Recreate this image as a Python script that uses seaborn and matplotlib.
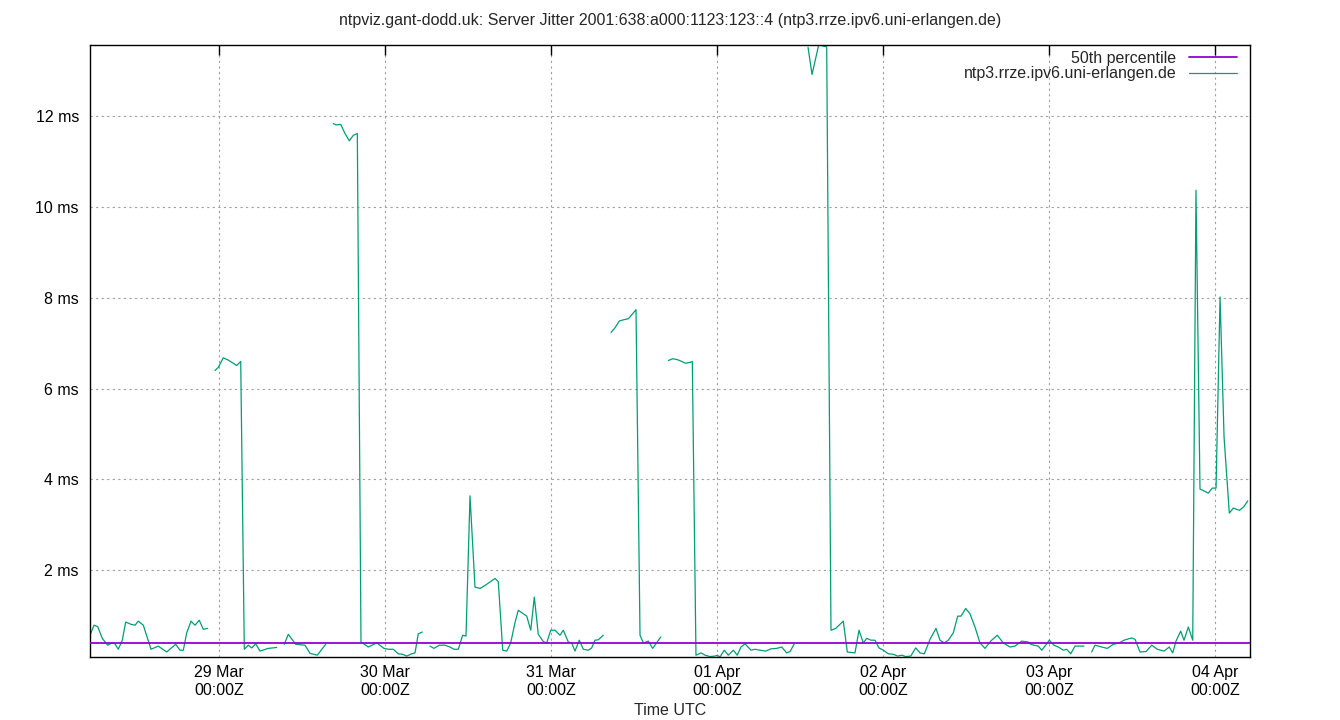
import numpy as np
import pandas as pd
import matplotlib
matplotlib.use("Agg")
import matplotlib.pyplot as plt
import matplotlib.dates as mdates
from matplotlib.lines import Line2D
import seaborn as sns

# ---- data (hours relative to 29 Mar 00:00 UTC, jitter in ms; NaN = gap) ----
hours = [
    -18.65, -18.07, -17.54, -16.87, -16.09, -15.51, -15.04, -14.56, -13.98, -13.49,
    -12.72, -12.14, -11.67, -10.94, -9.83, -8.78, -7.56, -6.26, -5.64, -5.16,
    -4.67, -4.05, -3.47, -2.85, -2.27, -1.63, -1.10,
    -0.58, -0.10, 0.62, 1.34, 2.56, 3.14, 3.66, 4.24, 4.73, 5.31, 5.93, 7.13, 8.34, 8.90,
    9.44, 10.02, 11.09, 12.43, 13.16, 14.21, 15.43, 16.00,
    16.53, 16.92, 17.60, 18.22, 18.84, 19.42, 20.00, 20.53, 21.59, 22.80, 23.86,
    24.48, 25.20, 25.92, 26.56, 27.14, 27.86, 28.34, 28.81, 29.39, 29.95,
    30.51, 31.08, 31.85, 32.68, 33.40, 33.98, 34.60, 35.23, 35.71, 36.29,
    37.01, 37.74, 38.60, 39.90, 40.38, 41.02, 41.60, 42.17, 42.80, 43.27,
    44.49, 45.07, 45.59, 46.16, 46.89, 47.38, 47.96, 48.58, 49.30, 49.78,
    50.50, 50.99, 51.47, 52.09, 52.67, 53.39, 53.88, 54.36, 54.84, 55.56, 56.10,
    56.68, 57.25, 57.87, 58.55, 59.18, 59.81, 60.29, 60.87, 61.35, 62.07, 62.70, 63.86, 64.40,
    64.96, 65.60, 66.26, 66.90, 67.47, 68.10, 68.43, 68.96, 69.69, 70.27,
    70.99, 71.71, 72.04, 72.43, 73.05, 73.63, 74.36, 74.93, 75.47, 76.05,
    76.92, 77.49, 78.22, 79.04, 79.81, 80.63, 81.36, 82.08, 82.56, 83.18, 84.20,
    85.16, 85.74, 86.70, 87.28, 87.86, 88.48, 89.16, 90.26, 90.84, 91.95,
    92.53, 93.15, 93.64, 94.27, 94.84, 95.42, 96.05, 96.77, 97.49, 98.13,
    98.71, 99.28, 100.01, 100.73, 101.35, 101.97, 102.80, 103.66, 104.24, 104.86,
    105.44, 106.16, 106.80, 107.28, 107.96, 108.58, 109.30, 110.02, 110.75, 111.57,
    112.52, 113.39, 114.36, 115.08, 116.05, 117.01, 117.35, 117.83, 118.45, 118.95,
    119.42, 120.04, 120.72, 121.34, 122.07, 122.56, 123.14, 123.76, 125.06, 125.60,
    126.17, 126.65, 127.62, 128.43, 129.30, 130.16, 130.84, 131.96, 132.44, 133.16,
    134.03, 134.85, 135.66, 136.63, 137.39, 137.89, 138.36, 139.04, 139.52, 140.14,
    140.78, 141.25, 141.83, 143.03, 143.61, 144.15, 144.73, 145.31, 146.07, 146.65,
    147.54, 148.16, 148.74,
]
nan = np.nan
jitter_ms = [
    0.57, 0.79, 0.76, 0.50, 0.35, 0.40, 0.38, 0.26, 0.46, 0.86,
    0.81, 0.79, 0.88, 0.79, 0.26, 0.33, 0.20, 0.37, 0.24, 0.24,
    0.62, 0.88, 0.79, 0.90, 0.70, 0.72, nan,
    6.40, 6.47, 6.68, 6.63, 6.51, 6.60, 0.26, 0.35, 0.29, 0.38, 0.22, 0.28, 0.30, nan,
    0.37, 0.59, 0.37, 0.35, 0.17, 0.13, 0.37, nan,
    11.84, 11.81, 11.82, 11.62, 11.46, 11.58, 11.62, 0.42, 0.31, 0.40, 0.28,
    0.26, 0.26, 0.16, 0.15, 0.11, 0.16, 0.18, 0.60, 0.64, nan,
    0.33, 0.28, 0.35, 0.35, 0.31, 0.26, 0.26, 0.57, 0.55, 3.64,
    1.63, 1.60, 1.68, 1.82, 1.75, 0.24, 0.22, 0.40, 0.85, 1.12,
    0.99, 0.68, 1.41, 0.59, 0.43, 0.40, 0.68, 0.68, 0.57, 0.68,
    0.42, 0.40, 0.22, 0.46, 0.26, 0.24, 0.29, 0.46, 0.47, 0.57, nan,
    7.24, 7.34, 7.49, 7.52, 7.54, 7.65, 7.74, 0.57, 0.40, 0.44, 0.28, 0.53, nan,
    6.62, 6.66, 6.64, 6.60, 6.56, 6.58, 6.60, 0.13, 0.18, 0.13,
    0.10, 0.11, 0.13, 0.09, 0.24, 0.13, 0.24, 0.13, 0.31, 0.38,
    0.24, 0.26, 0.24, 0.22, 0.27, 0.28, 0.31, 0.18, 0.21, 0.38, nan,
    13.52, 12.92, 13.57, 13.55, 13.53, 0.68, 0.72, 0.88, 0.20, 0.18,
    0.68, 0.40, 0.50, 0.46, 0.46, 0.29, 0.24, 0.16, 0.15, 0.11,
    0.13, 0.10, 0.11, 0.29, 0.18, 0.16, 0.48, 0.72, 0.46, 0.40,
    0.46, 0.62, 0.99, 0.99, 1.16, 1.04, 0.75, 0.40, 0.28, 0.44,
    0.57, 0.40, 0.31, 0.33, 0.44, 0.42, 0.37, 0.35, 0.33, 0.24,
    0.33, 0.46, 0.35, 0.31, 0.24, 0.26, 0.16, 0.33, 0.33, nan,
    0.20, 0.35, 0.31, 0.28, 0.37, 0.40, 0.46, 0.51, 0.48, 0.20,
    0.21, 0.35, 0.26, 0.22, 0.31, 0.18, 0.44, 0.66, 0.46, 0.75,
    0.46, 10.37, 3.79, 3.70, 3.81, 3.81, 8.02, 4.93, 3.26, 3.37,
    3.32, 3.40, 3.53,
]
median_ms = 0.39
x_range_hours = [-18.65, 149.06]

title = "ntpviz.gant-dodd.uk: Server Jitter 2001:638:a000:1123:123::4 (ntp3.rrze.ipv6.uni-erlangen.de)"
series_label = "ntp3.rrze.ipv6.uni-erlangen.de"
median_label = "50th percentile"
y_ticks = [2, 4, 6, 8, 10, 12]

# ---- build frame ----
base = pd.Timestamp("2025-03-29 00:00:00")
df = pd.DataFrame({"hours": hours, "ms": jitter_ms})
df["time"] = base + pd.to_timedelta(df["hours"], unit="h")
df["seg"] = df["ms"].isna().cumsum()
df = df.dropna()

sns.set_theme(style="white")
plt.rcParams["font.family"] = ["Liberation Sans", "DejaVu Sans"]

fig = plt.figure(figsize=(13.4, 7.2), dpi=100)
ax = fig.add_axes([90 / 1340, 1 - 657 / 720, 1160 / 1340, 612 / 720])

green = "#009E73"
purple = "#9400D3"

sns.lineplot(data=df, x="time", y="ms", units="seg", estimator=None,
             color=green, linewidth=0.9, ax=ax, legend=False)
ax.axhline(median_ms, color=purple, linewidth=1.3, zorder=3)

x0 = base + pd.Timedelta(hours=x_range_hours[0])
x1 = base + pd.Timedelta(hours=x_range_hours[1])
ax.set_xlim(x0, x1)
ax.set_ylim(np.nanmin(jitter_ms), np.nanmax(jitter_ms))

ax.xaxis.set_major_locator(mdates.DayLocator())
ax.xaxis.set_major_formatter(mdates.DateFormatter("%d %b\n%H:%MZ"))
ax.set_yticks(y_ticks)
ax.set_yticklabels([f"{v} ms" for v in y_ticks])

ax.grid(True, color="#a0a0a0", linestyle=(0, (2, 3)), linewidth=0.8)
ax.tick_params(axis="both", direction="in", length=7, width=1, color="black",
               labelsize=11.5, labelcolor="black")
ax.tick_params(axis="x", top=True, pad=6)
ax.tick_params(axis="y", right=False, pad=8)
for s in ax.spines.values():
    s.set_color("black")
    s.set_linewidth(1)

ax.set_xlabel("Time UTC", fontsize=11.5, labelpad=4)
ax.set_ylabel("")
fig.text(0.5, 1 - 20 / 720, title, ha="center", va="center", fontsize=11.5)

handles = [Line2D([], [], color=purple, linewidth=1.3),
           Line2D([], [], color=green, linewidth=0.9)]
ax.legend(handles, [median_label, series_label], loc="upper right",
          frameon=False, markerfirst=False, fontsize=11.5, handlelength=3.0,
          borderaxespad=0.05, borderpad=0.3, labelspacing=0.05,
          handletextpad=0.8, bbox_to_anchor=(0.9935, 1.0))

fig.savefig("out.png", dpi=100)
